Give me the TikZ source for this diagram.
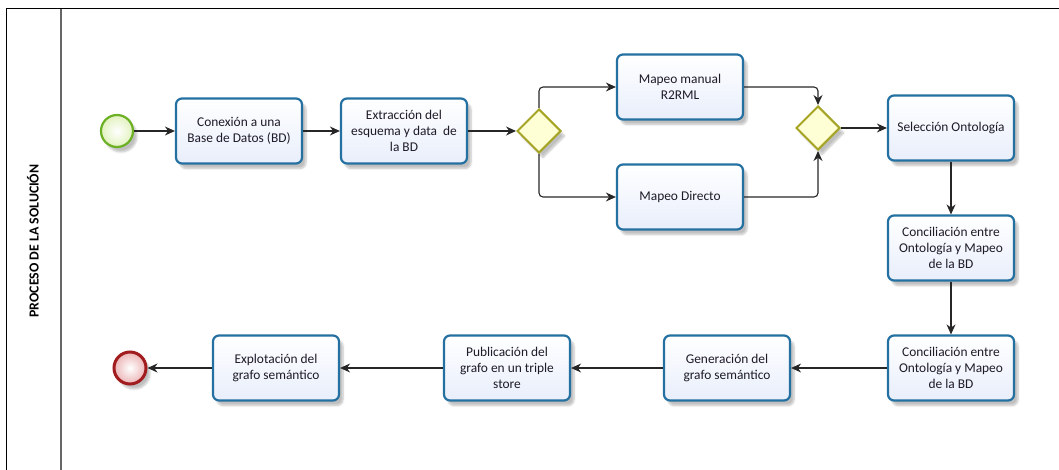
\documentclass[tikz,border=0pt]{standalone}
\usepackage{fontspec}
\setmainfont{Carlito}
\usetikzlibrary{shapes.geometric,arrows.meta,shadows.blur}

\definecolor{taskline}{RGB}{36,112,160}
\definecolor{taskfill}{RGB}{232,238,251}
\definecolor{startline}{RGB}{108,176,38}
\definecolor{startfill}{RGB}{226,242,190}
\definecolor{endline}{RGB}{160,28,30}
\definecolor{endfill}{RGB}{236,180,182}
\definecolor{gateline}{RGB}{166,164,36}
\definecolor{gatefill}{RGB}{255,255,214}
\definecolor{txt}{RGB}{30,26,40}

\tikzset{
  task/.style={rectangle, rounded corners=6pt, draw=taskline, line width=2.2pt,
    top color=white, bottom color=taskfill, minimum width=126pt, minimum height=65pt,
    align=center, text=txt, inner sep=2pt,
    font=\fontsize{13.4}{16}\selectfont,
    blur shadow={shadow xshift=4pt, shadow yshift=-5pt, shadow opacity=25, shadow blur steps=6}},
  gate/.style={diamond, draw=gateline, line width=2pt, fill=gatefill, inner sep=0pt,
    minimum width=44pt, minimum height=44pt,
    blur shadow={shadow xshift=4pt, shadow yshift=-5pt, shadow opacity=25, shadow blur steps=6}},
  startev/.style={circle, draw=startline, line width=2.2pt, inner color=white, outer color=startfill,
    minimum size=32pt, inner sep=0pt,
    blur shadow={shadow xshift=4pt, shadow yshift=-5pt, shadow opacity=25, shadow blur steps=6}},
  endev/.style={circle, draw=endline, line width=3pt, inner color=white, outer color=endfill,
    minimum size=32pt, inner sep=0pt,
    blur shadow={shadow xshift=4pt, shadow yshift=-5pt, shadow opacity=25, shadow blur steps=6}},
  flow/.style={draw=black!85, line width=1.1pt, rounded corners=4pt,
    -{Stealth[length=10pt,width=9pt]}},
}

\begin{document}
\begin{tikzpicture}[x=1pt,y=-1pt]
  \useasboundingbox (0,0) rectangle (1059,470);

  % pool frame and lane header
  \draw[line width=1pt, black] (6,470) -- (6,9) -- (1059,9);
  \draw[line width=1.6pt, black!60] (61,9) -- (61,470);
  \node[rotate=90, font=\fontsize{13.8}{15}\selectfont\bfseries, text=black] (lane) at (33,241)
    {PROCESO DE LA SOLUCIÓN};

  % upper row
  \node[startev] (start) at (117,131) {};
  \node[task] (conn) at (239,131) {Conexión a una\\Base de Datos (BD)};
  \node[task] (extr) at (404,131) {Extracción del\\esquema y data\ \ de\\la BD};
  \node[gate] (g1) at (539,131) {};
  \node[task] (manual) at (680,87) {Mapeo manual\\R2RML};
  \node[task] (direct) at (680,197) {Mapeo Directo};
  \node[gate] (g2) at (818,128) {};
  \node[task] (sel) at (951,128) {Selección Ontología};

  % right column
  \node[task] (conc1) at (951,248) {Conciliación entre\\Ontología y Mapeo\\de la BD};
  \node[task] (conc2) at (951,368) {Conciliación entre\\Ontología y Mapeo\\de la BD};

  % lower row
  \node[task] (gen) at (727,368) {Generación del\\grafo semántico};
  \node[task] (pub) at (507,368) {Publicación del\\grafo en un triple\\store};
  \node[task] (expl) at (276,368) {Explotación del\\grafo semántico};
  \node[endev] (end) at (130,368) {};

  % sequence flows
  \draw[flow] (start) -- (conn);
  \draw[flow] (conn) -- (extr);
  \draw[flow] (extr.east) -- (g1.west);
  \draw[flow] (g1.north) |- (manual.west);
  \draw[flow] (g1.south) |- (direct.west);
  \draw[flow] (manual.east) -| (g2.north);
  \draw[flow] (direct.east) -| (g2.south);
  \draw[flow] (g2.east) -- (sel.west);
  \draw[flow] (sel) -- (conc1);
  \draw[flow] (conc1) -- (conc2);
  \draw[flow] (conc2) -- (gen);
  \draw[flow] (gen) -- (pub);
  \draw[flow] (pub) -- (expl);
  \draw[flow] (expl) -- (end);
\end{tikzpicture}
\end{document}
